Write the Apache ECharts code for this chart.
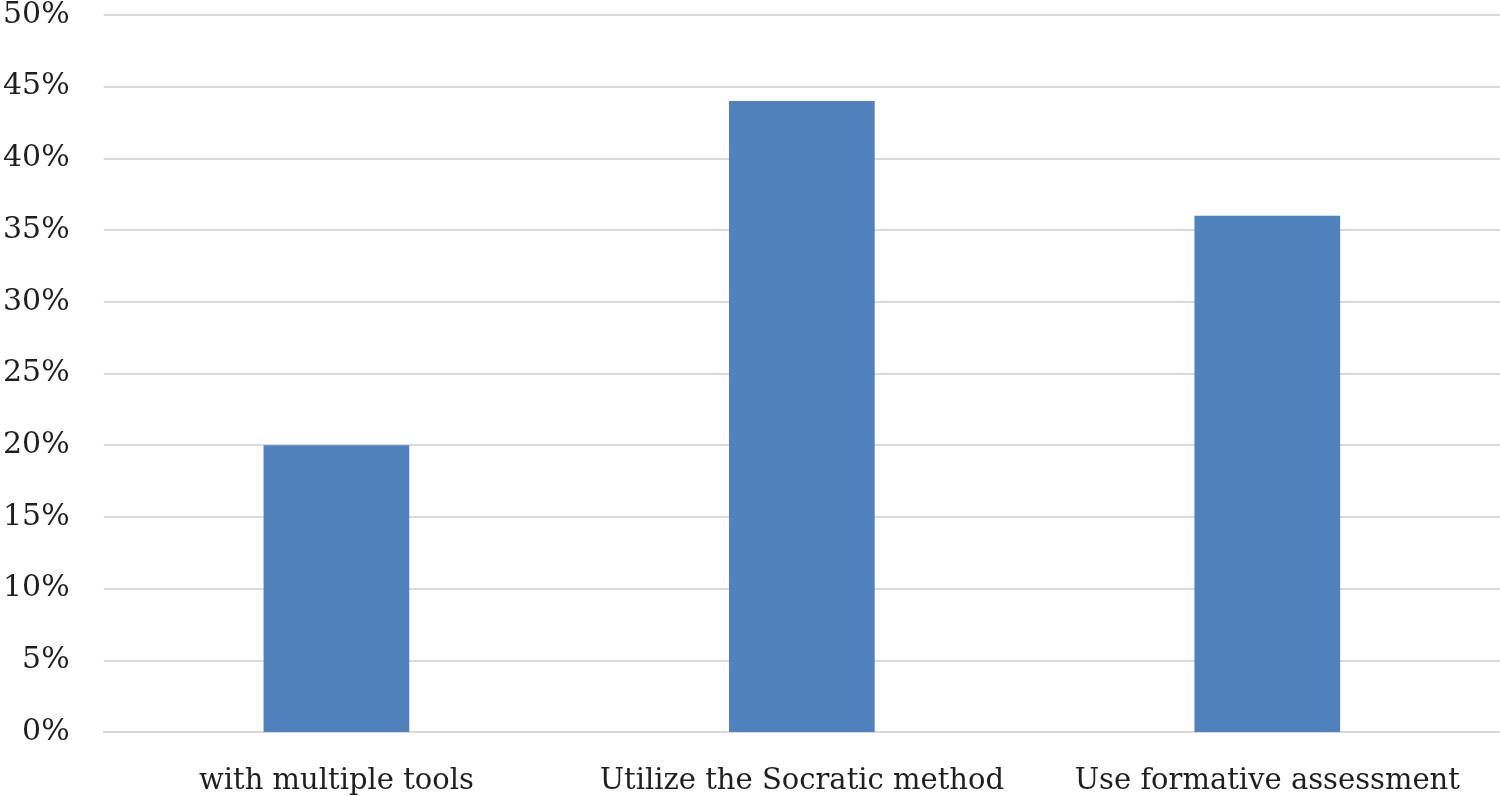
<!DOCTYPE html>
<html>
<head>
<meta charset="utf-8">
<script src="https://cdn.jsdelivr.net/npm/echarts@6/dist/echarts.min.js"></script>
<style>
  html, body { margin: 0; padding: 0; background: #fff; }
  #chart { width: 1500px; height: 796px; }
</style>
</head>
<body>
<div id="chart"></div>
<script>
// data
const categories = ['with multiple tools', 'Utilize the Socratic method', 'Use formative assessment'];
const percents = [20, 44, 36];

const chart = echarts.init(document.getElementById('chart'));
const font = '"DejaVu Serif", "Liberation Serif", serif';

chart.setOption({
  animation: false,
  grid: { left: 102, right: 0, top: 14, bottom: 64, containLabel: false },
  xAxis: {
    type: 'category',
    data: categories,
    axisLine: { show: true, lineStyle: { color: '#d9d9d9', width: 2 } },
    axisTick: { show: false },
    axisLabel: { interval: 0, color: '#1f1f1f', fontFamily: font, fontSize: 29, margin: 35 }
  },
  yAxis: {
    type: 'value',
    min: 0,
    max: 50,
    interval: 5,
    axisLine: { show: false },
    axisTick: { show: false },
    axisLabel: { color: '#1f1f1f', fontFamily: font, fontSize: 30, margin: 34, formatter: '{value}%' },
    splitLine: { lineStyle: { color: '#d9d9d9', width: 2 } }
  },
  series: [{
    type: 'bar',
    data: percents,
    barWidth: '31.3%',
    itemStyle: { color: '#4f81bd' }
  }]
});
</script>
</body>
</html>
